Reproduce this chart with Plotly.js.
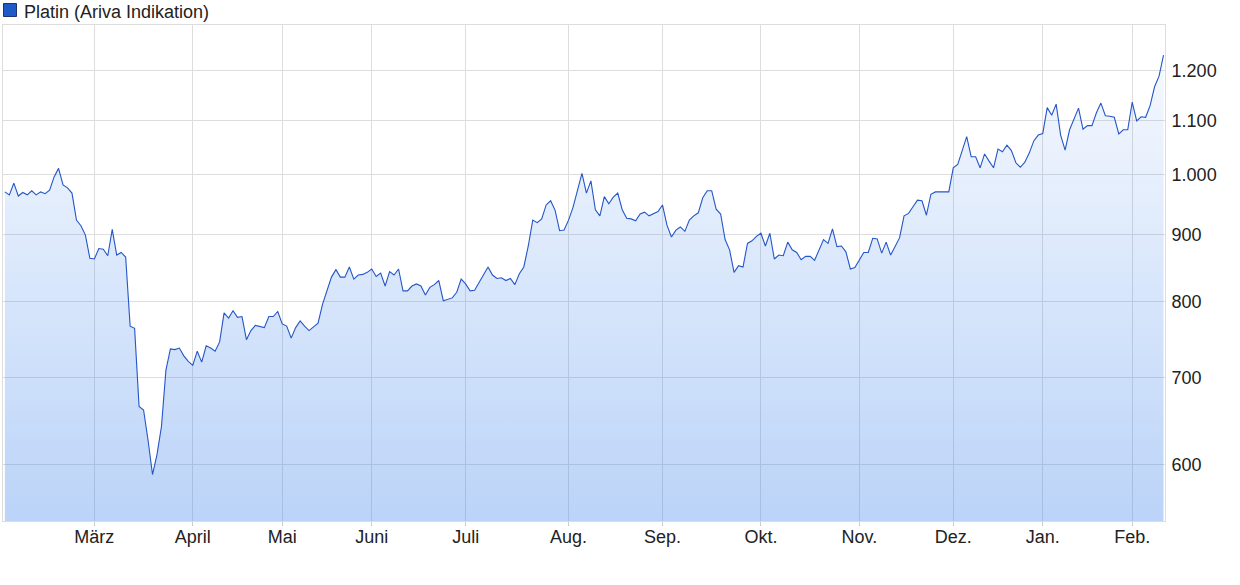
<!DOCTYPE html>
<html>
<head>
<meta charset="utf-8">
<script src="https://cdn.plot.ly/plotly-3.0.1.min.js"></script>
<style>
  html, body { margin: 0; padding: 0; background: #ffffff; }
  #chart { width: 1240px; height: 585px; }
</style>
</head>
<body>
<div id="chart"></div>
<script>
// Platinum price (Ariva Indikation), one value per trading day, grouped by month
const feb2020 = [970,965,985,963,969,965,972,965,970,967,973,996,1011,982,977,968,923,914,899,863];
const mar2020 = [862,878,877,867,908,868,872,865,766,763,665,661,627,590,611,642,709,736,735,737,727,720];
const apr2020 = [715,733,719,740,737,733,745,784,777,787,778,779,748,760,767,766,764,779,779,786];
const may2020 = [769,766,750,764,773,766,760,765,770,796,817,835,846,835,835,850,832,838,839,842];
const jun2020 = [847,836,841,822,843,838,847,815,815,822,825,822,809,820,824,830,801,803,805,813,832];
const jul2020 = [825,815,816,827,838,850,838,833,834,830,833,824,840,850,882,923,919,925,948,955,939,906,907];
const aug2020 = [923,944,975,1002,968,989,940,930,962,950,961,968,940,926,925,922,933,936,930,934,937];
const sep2020 = [948,915,896,907,912,905,923,930,935,960,972,972,941,933,892,876,842,852,850,886,890,897];
const oct2020 = [902,882,902,862,868,867,888,876,872,861,866,866,860,877,892,886,909,881,882,873,847,849];
const nov2020 = [861,872,872,894,893,871,888,868,881,895,930,934,945,956,955,931,966,970,970,970,970];
const dec2020 = [1012,1018,1043,1069,1032,1032,1012,1037,1024,1012,1046,1041,1053,1043,1021,1013,1022,1039,1061,1072];
const jan2021 = [1075,1125,1110,1132,1072,1044,1082,1102,1124,1083,1090,1090,1115,1134,1109,1108,1106,1074,1082,1082];
const feb2021 = [1136,1099,1107,1106,1129,1167,1189,1234];

const months = [feb2020, mar2020, apr2020, may2020, jun2020, jul2020, aug2020, sep2020, oct2020, nov2020, dec2020, jan2021, feb2021];
const monthLabels = [null, 'März', 'April', 'Mai', 'Juni', 'Juli', 'Aug.', 'Sep.', 'Okt.', 'Nov.', 'Dez.', 'Jan.', 'Feb.'];

const yTickVals = [600, 700, 800, 900, 1000, 1100, 1200];
const yTickText = ['600', '700', '800', '900', '1.000', '1.100', '1.200'];

const seriesName = 'Platin (Ariva Indikation)';

// build series
const values = [];
const tickVals = [];
const tickText = [];
months.forEach((m, k) => {
  if (monthLabels[k]) { tickVals.push(values.length); tickText.push(monthLabels[k]); }
  m.forEach(v => values.push(v));
});
const idx = values.map((_, i) => i);

const W = 1240, H = 585;
const M = { l: 3, r: 75, t: 25, b: 64 };
const pw = W - M.l - M.r, ph = H - M.t - M.b;
const px2x = p => (p - M.l) / pw;
const py2y = p => (H - M.b - p) / ph;

const yMin = 543.7, yMax = 1301;

const trace = {
  x: idx,
  y: values,
  type: 'scatter',
  mode: 'lines',
  line: { color: '#2456c8', width: 1.1 },
  fill: 'tozeroy',
  fillgradient: {
    type: 'vertical',
    start: yMin,
    stop: yMax,
    colorscale: [[0, 'rgba(60,130,235,0.35)'], [1, 'rgba(60,130,235,0.03)']]
  },
  hoverinfo: 'skip',
  showlegend: false
};

const layout = {
  width: W, height: H,
  margin: M,
  paper_bgcolor: '#ffffff',
  plot_bgcolor: '#ffffff',
  font: { family: 'Liberation Sans, Arial, sans-serif', size: 18, color: '#222222' },
  xaxis: {
    range: [-0.42, values.length - 1 + 0.33],
    tickmode: 'array',
    tickvals: tickVals,
    ticktext: tickText,
    showgrid: true,
    gridcolor: '#dddddd',
    gridwidth: 1,
    ticks: 'outside',
    ticklen: 4,
    tickcolor: '#cccccc',
    ticklabelstandoff: -5,
    showline: true,
    linecolor: '#dddddd',
    linewidth: 1,
    mirror: true,
    zeroline: false,
    tickfont: { size: 18, color: '#222222' }
  },
  yaxis: {
    type: 'log',
    side: 'right',
    range: [Math.log10(yMin), Math.log10(yMax)],
    tickmode: 'array',
    tickvals: yTickVals,
    ticktext: yTickText,
    showgrid: true,
    gridcolor: '#dddddd',
    gridwidth: 1,
    ticks: '',
    showline: true,
    linecolor: '#dddddd',
    linewidth: 1,
    mirror: true,
    zeroline: false,
    ticklabelstandoff: 2,
    tickfont: { size: 18, color: '#222222' }
  },
  shapes: [{
    type: 'rect', xref: 'paper', yref: 'paper',
    x0: px2x(3.5), x1: px2x(16.5), y0: py2y(16.5), y1: py2y(3.5),
    fillcolor: '#1f5bc6', line: { color: '#1a3570', width: 1 }
  }],
  annotations: [{
    xref: 'paper', yref: 'paper', x: px2x(22), y: py2y(12),
    xanchor: 'left', yanchor: 'middle', showarrow: false,
    text: seriesName, font: { size: 18, color: '#222222' }
  }]
};

Plotly.newPlot('chart', [trace], layout, { displayModeBar: false, staticPlot: true });
</script>
</body>
</html>
